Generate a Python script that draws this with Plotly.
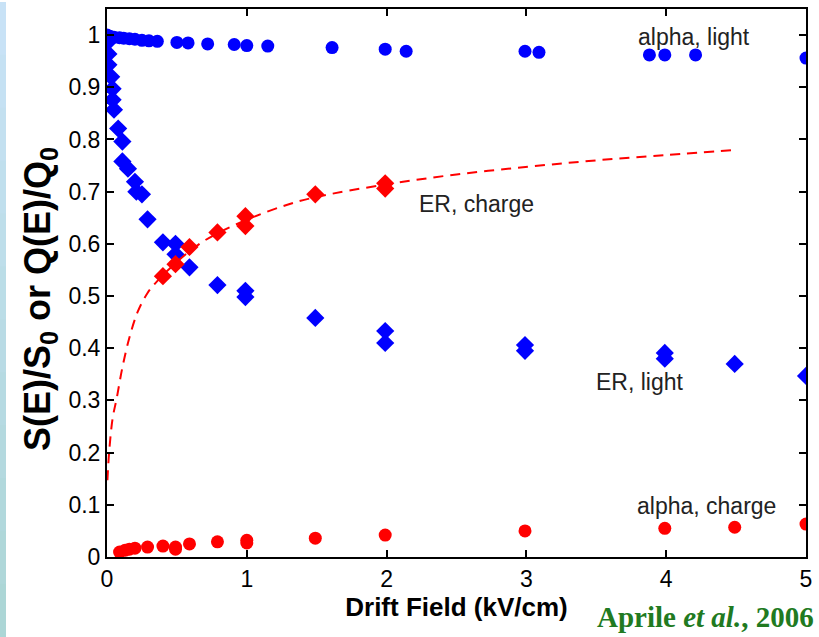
import plotly.graph_objects as go

# ---- data ----
alpha_light_x = [0, 0.02, 0.05, 0.09, 0.12, 0.16, 0.2, 0.25, 0.3, 0.36, 0.5, 0.58, 0.72, 0.91, 1.0, 1.15,
                 1.61, 1.99, 2.14, 2.99, 3.09, 3.88, 3.99, 4.21, 5.0]
alpha_light_y = [1.0, 0.998, 0.996, 0.995, 0.994, 0.993, 0.992, 0.99, 0.989, 0.988, 0.986, 0.985, 0.983,
                 0.982, 0.98, 0.979, 0.976, 0.973, 0.969, 0.969, 0.967, 0.962, 0.962, 0.962, 0.956]

er_light_x = [0.0, 0.01, 0.01, 0.03, 0.04, 0.04, 0.05, 0.08, 0.11, 0.11, 0.15, 0.2, 0.21, 0.25, 0.29,
              0.4, 0.49, 0.49, 0.59, 0.79, 0.99, 0.99, 1.49, 1.99, 1.99, 2.99, 2.99, 3.99, 3.99, 4.49, 5.0]
er_light_y = [0.985, 0.964, 0.943, 0.92, 0.897, 0.876, 0.857, 0.821, 0.796, 0.758, 0.744, 0.719, 0.70,
              0.695, 0.647, 0.603, 0.60, 0.58, 0.555, 0.521, 0.51, 0.498, 0.458, 0.433, 0.41, 0.406,
              0.395, 0.391, 0.38, 0.37, 0.347]

er_charge_x = [0.4, 0.49, 0.59, 0.79, 0.99, 0.99, 1.49, 1.99, 1.99]
er_charge_y = [0.538, 0.561, 0.594, 0.622, 0.653, 0.634, 0.695, 0.716, 0.706]

fit_x = [0.003, 0.015, 0.04, 0.07, 0.11, 0.16, 0.22, 0.29, 0.34, 0.49, 0.69, 0.99, 1.29, 1.5, 2.0,
         2.5, 3.02, 3.5, 4.0, 4.49]
fit_y = [0.147, 0.2, 0.265, 0.305, 0.363, 0.42, 0.47, 0.506, 0.523, 0.563, 0.605, 0.645, 0.675, 0.69,
         0.714, 0.733, 0.748, 0.76, 0.77, 0.78]

alpha_charge_x = [0.09, 0.13, 0.16, 0.2, 0.29, 0.4, 0.49, 0.49, 0.59, 0.79, 1.0, 1.0, 1.49, 1.99, 2.99,
                  3.99, 4.49, 5.0]
alpha_charge_y = [0.0095, 0.013, 0.015, 0.017, 0.019, 0.021, 0.019, 0.015, 0.025, 0.029, 0.032, 0.027,
                  0.036, 0.042, 0.05, 0.055, 0.057, 0.063]

x_ticks = [0, 1, 2, 3, 4, 5]
y_ticks = [0, 0.1, 0.2, 0.3, 0.4, 0.5, 0.6, 0.7, 0.8, 0.9, 1.0]
y_tick_text = ["0", "0.1", "0.2", "0.3", "0.4", "0.5", "0.6", "0.7", "0.8", "0.9", "1"]

labels = [("alpha, light", 4.2, 0.996), ("ER, charge", 2.64, 0.677),
          ("ER, light", 3.81, 0.336), ("alpha, charge", 4.29, 0.097)]

BLUE = "#0000ff"
RED = "#ff0000"
FONT = "Liberation Sans, Arial, sans-serif"

fig = go.Figure()
fig.add_trace(go.Scatter(x=alpha_light_x, y=alpha_light_y, mode="markers",
                         marker=dict(symbol="circle", size=13, color=BLUE)))
fig.add_trace(go.Scatter(x=er_light_x, y=er_light_y, mode="markers",
                         marker=dict(symbol="diamond", size=14, color=BLUE)))
fig.add_trace(go.Scatter(x=fit_x, y=fit_y, mode="lines",
                         line=dict(color=RED, width=2, dash="10px,7px", shape="spline")))
fig.add_trace(go.Scatter(x=er_charge_x, y=er_charge_y, mode="markers",
                         marker=dict(symbol="diamond", size=14, color=RED)))
fig.add_trace(go.Scatter(x=alpha_charge_x, y=alpha_charge_y, mode="markers",
                         marker=dict(symbol="circle", size=13, color=RED)))

for txt, lx, ly in labels:
    fig.add_annotation(x=lx, y=ly, xref="x", yref="y", text=txt, showarrow=False,
                       font=dict(family=FONT, size=23, color="#222222"))

pw = 699.0
ph = 550.0

# y-axis title as a rotated annotation (centred a bit below the plot-area centre, as in the reference)
fig.add_annotation(x=-(107 - 40) / pw, y=(557 - 298) / ph, xref="paper", yref="paper",
                   xanchor="center", yanchor="middle", textangle=-90, showarrow=False,
                   text="<b>S(E)/S<sub>0</sub> or Q(E)/Q<sub>0</sub></b>",
                   font=dict(family=FONT, size=36, color="black"))

fig.add_annotation(x=1.0 + 10 / pw, y=-(617 - 557) / ph, xref="paper", yref="paper",
                   xanchor="right", yanchor="middle",
                   text="<b>Aprile <i>et al.</i>, 2006</b>", showarrow=False,
                   font=dict(family="Liberation Serif, Times New Roman, serif", size=29, color="#217a21"))

# light-blue strip on the left edge (slide background)
n = 12
top = (200, 226, 246)
bot = (172, 214, 214)
for i in range(n):
    t = i / (n - 1)
    c = tuple(int(round(top[k] + (bot[k] - top[k]) * t)) for k in range(3))
    y1 = 1 + 7 / ph - i * (637 / ph) / n
    y0 = y1 - (637 / ph) / n - 0.002
    fig.add_shape(type="rect", xref="paper", yref="paper", x0=-107 / pw, x1=-101 / pw,
                  y0=y0, y1=y1, line=dict(width=0), fillcolor="rgb(%d,%d,%d)" % c, layer="below")

axis_common = dict(showgrid=False, zeroline=False, showline=True, linecolor="black", linewidth=2,
                   ticks="inside", ticklen=7, tickwidth=1.5, tickcolor="black", mirror="ticks",
                   tickfont=dict(family=FONT, size=23, color="black"))

fig.update_xaxes(range=[0, 5], tickvals=x_ticks, ticktext=[str(v) for v in x_ticks],
                 title=dict(text="<b>Drift Field (kV/cm)</b>", font=dict(family=FONT, size=26, color="black"),
                            standoff=1),
                 **axis_common)
fig.update_yaxes(range=[0, 1.05], tickvals=y_ticks, ticktext=y_tick_text, **axis_common)

fig.update_layout(width=819, height=637, margin=dict(l=107, r=13, t=7, b=80),
                  paper_bgcolor="white", plot_bgcolor="white", showlegend=False)

fig.write_html("out.html")
